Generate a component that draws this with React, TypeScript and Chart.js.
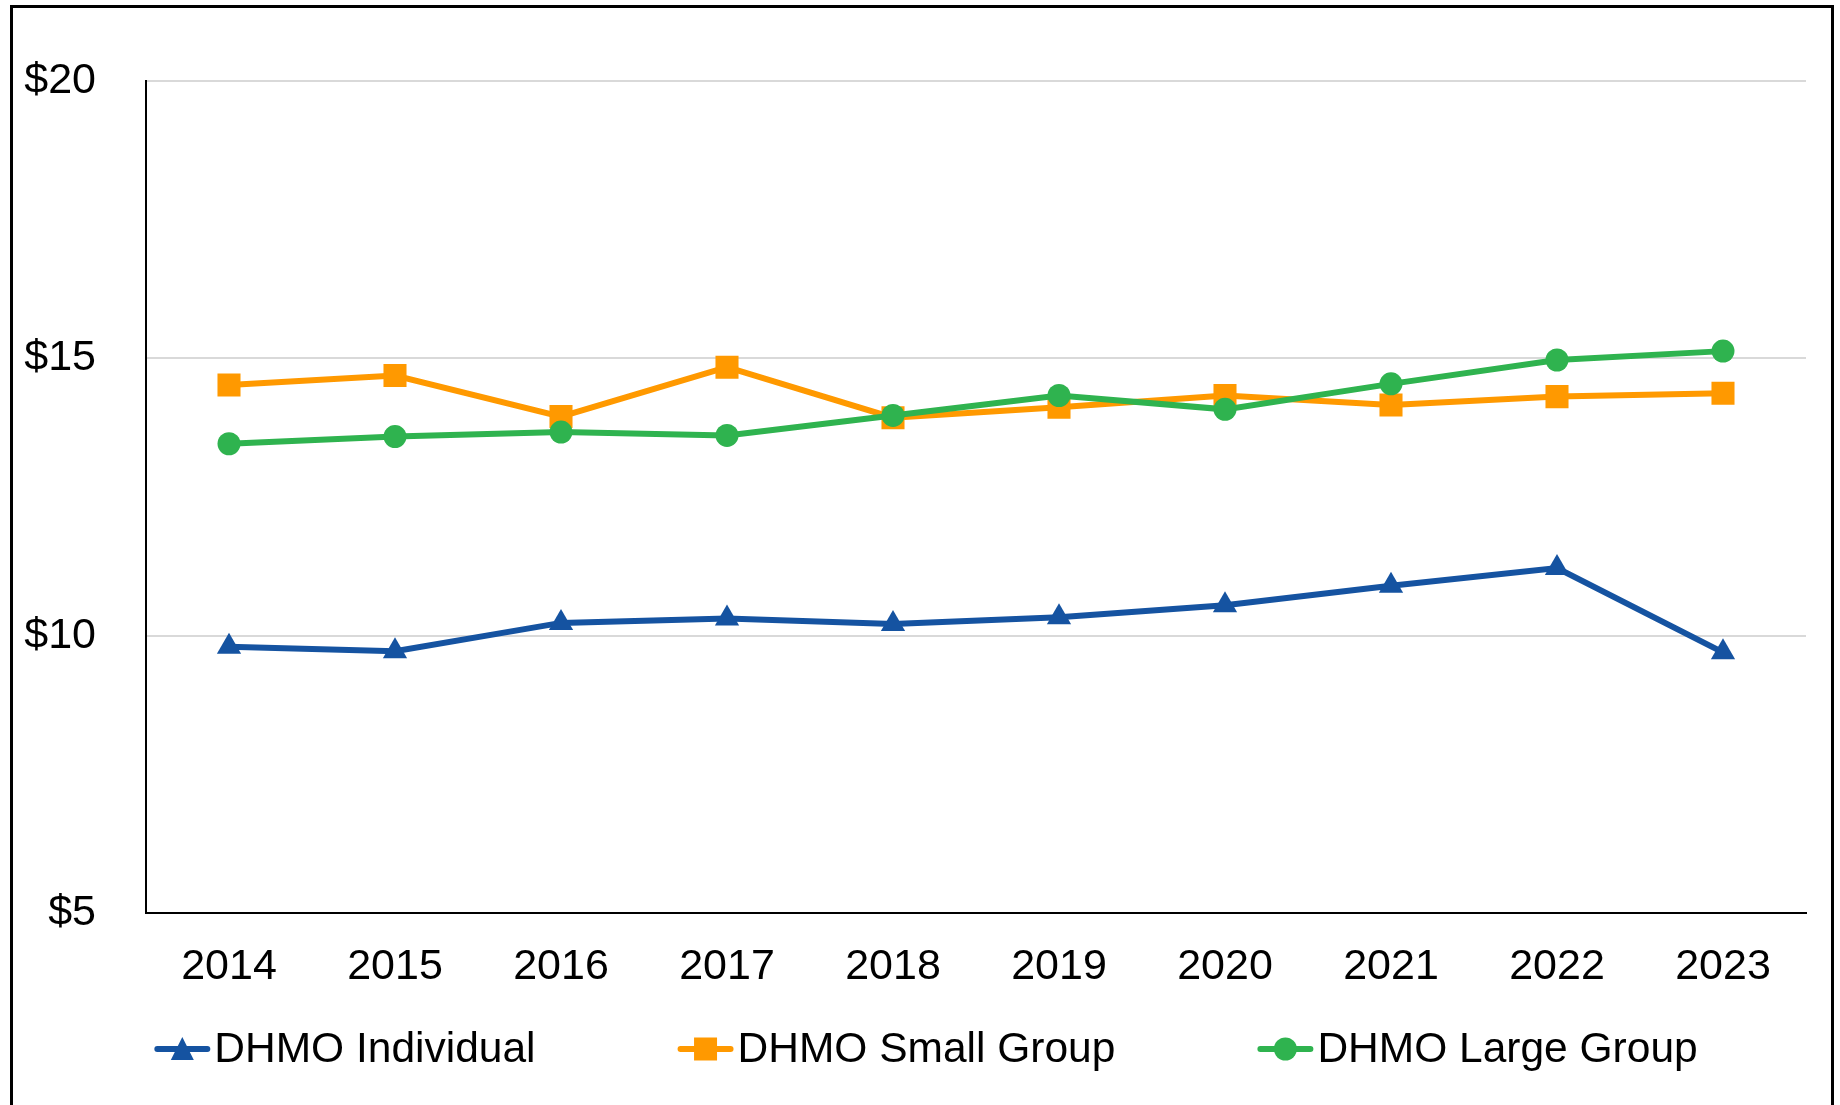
import React, { useEffect, useRef } from "react";
import { Chart, registerables } from "chart.js";

Chart.register(...registerables);

const years = ["2014", "2015", "2016", "2017", "2018", "2019", "2020", "2021", "2022", "2023"];
const individual = [9.8, 9.72, 10.23, 10.31, 10.21, 10.33, 10.55, 10.9, 11.22, 9.7];
const smallGroup = [14.52, 14.69, 13.95, 14.84, 13.93, 14.12, 14.33, 14.16, 14.31, 14.37];
const largeGroup = [13.46, 13.59, 13.67, 13.61, 13.97, 14.33, 14.08, 14.54, 14.97, 15.13];
const yTicks = [5, 10, 15, 20];

const BLUE = "#1553a1";
const ORANGE = "#ff9900";
const GREEN = "#2fb34f";
const FONT = "'Liberation Sans', Arial, sans-serif";

const borderPlugin = {
  id: "outerBorder",
  beforeDraw(chart: any) {
    const ctx = chart.ctx;
    ctx.save();
    ctx.fillStyle = "#ffffff";
    ctx.fillRect(0, 0, chart.width, chart.height);
    ctx.strokeStyle = "#000000";
    ctx.lineWidth = 3;
    ctx.strokeRect(11.5, 6.5, 1821, 1200);
    ctx.restore();
  },
};

function drawMarker(ctx: CanvasRenderingContext2D, style: string, x: number, y: number, color: string) {
  ctx.fillStyle = color;
  ctx.beginPath();
  if (style === "triangle") {
    ctx.moveTo(x, y - 12);
    ctx.lineTo(x + 11.5, y + 11);
    ctx.lineTo(x - 11.5, y + 11);
    ctx.closePath();
  } else if (style === "rect") {
    ctx.rect(x - 11.5, y - 11.5, 23, 23);
  } else {
    ctx.arc(x, y, 11.5, 0, Math.PI * 2);
  }
  ctx.fill();
}

const legendPlugin = {
  id: "customLegend",
  afterDraw(chart: any) {
    const ctx = chart.ctx;
    const ds = chart.data.datasets;
    ctx.save();
    ctx.font = `42.5px ${FONT}`;
    ctx.textBaseline = "middle";
    const lineLen = 56;
    const textGap = 4;
    const itemGap = 142;
    const widths = ds.map((d: any) => lineLen + textGap + ctx.measureText(d.label).width);
    const total = widths.reduce((a: number, b: number) => a + b, 0) + itemGap * (ds.length - 1);
    let x = chart.width / 2 + 6 - total / 2;
    const y = 1049;
    ds.forEach((d: any, i: number) => {
      ctx.strokeStyle = d.borderColor;
      ctx.lineWidth = 6;
      ctx.lineCap = "round";
      ctx.beginPath();
      ctx.moveTo(x + 3, y);
      ctx.lineTo(x + lineLen - 3, y);
      ctx.stroke();
      drawMarker(ctx, d.pointStyle, x + lineLen / 2, y, d.borderColor);
      ctx.fillStyle = "#000000";
      ctx.fillText(d.label, x + lineLen + textGap, y + 1);
      x += widths[i] + itemGap;
    });
    ctx.restore();
  },
};

export default function App() {
  const ref = useRef<HTMLCanvasElement | null>(null);
  useEffect(() => {
    document.body.style.margin = "0";
    const canvas = ref.current!;
    const chart = new Chart(canvas, {
      type: "line",
      data: {
        labels: years,
        datasets: [
          {
            label: "DHMO Individual",
            data: individual,
            borderColor: BLUE,
            backgroundColor: BLUE,
            pointStyle: "triangle",
            pointRadius: 14,
            pointBorderWidth: 0,
            borderWidth: 6,
            order: 2,
          },
          {
            label: "DHMO Small Group",
            data: smallGroup,
            borderColor: ORANGE,
            backgroundColor: ORANGE,
            pointStyle: "rect",
            pointRadius: 16.3,
            pointBorderWidth: 0,
            borderWidth: 6,
            order: 1,
          },
          {
            label: "DHMO Large Group",
            data: largeGroup,
            borderColor: GREEN,
            backgroundColor: GREEN,
            pointStyle: "circle",
            pointRadius: 11.5,
            pointBorderWidth: 0,
            borderWidth: 6,
            order: 0,
          },
        ],
      },
      options: {
        animation: false,
        responsive: false,
        maintainAspectRatio: false,
        devicePixelRatio: 1,
        layout: { padding: { left: 0, right: 34, top: 81, bottom: 92 } },
        plugins: {
          legend: { display: false },
          tooltip: { enabled: false },
        },
        elements: { line: { tension: 0 } },
        scales: {
          x: {
            offset: true,
            grid: { display: false, drawTicks: false },
            border: { display: true, color: "#000000", width: 2 },
            ticks: { color: "#000000", font: { family: FONT, size: 43 }, padding: 28, maxRotation: 0 },
            afterFit(scale: any) {
              scale.height = 100;
            },
          },
          y: {
            min: 5,
            max: 20,
            afterBuildTicks(scale: any) {
              scale.ticks = yTicks.map((v) => ({ value: v }));
            },
            grid: { color: "#d9d9d9", lineWidth: 2, drawTicks: false },
            border: { display: true, color: "#000000", width: 2 },
            ticks: {
              color: "#000000",
              font: { family: FONT, size: 43 },
              padding: 50,
              callback: (v: any) => "$" + v,
            },
            afterFit(scale: any) {
              scale.width = 146;
            },
          },
        },
      },
      plugins: [borderPlugin, legendPlugin],
    });
    return () => chart.destroy();
  }, []);
  return <canvas ref={ref} width={1840} height={1105} style={{ display: "block", width: 1840, height: 1105 }} />;
}
